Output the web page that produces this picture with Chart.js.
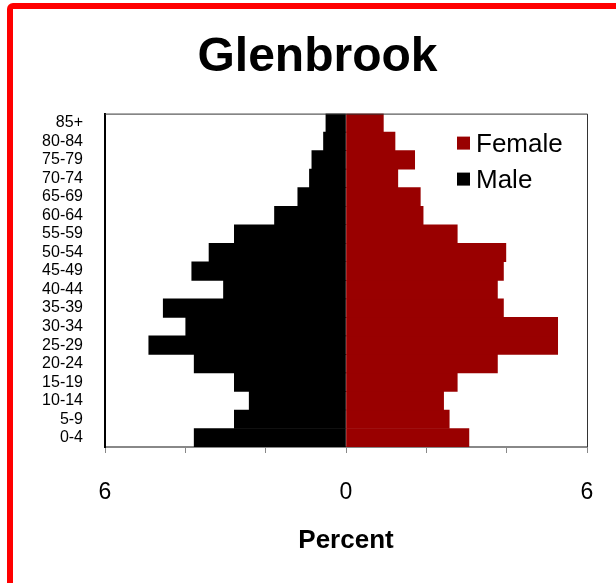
<!DOCTYPE html>
<html>
<head>
<meta charset="utf-8">
<script src="https://cdn.jsdelivr.net/npm/chart.js@4"></script>
<style>
    html, body { margin: 0; padding: 0; background: #ffffff; overflow: hidden; }
    #wrap { position: relative; width: 616px; height: 583px; }
    #frame {
        position: absolute; left: 7px; top: 3px; width: 700px; height: 700px;
        border: 6px solid #ff0000; border-radius: 6px; box-sizing: border-box;
        pointer-events: none;
    }
    canvas { position: absolute; left: 0; top: 0; }
</style>
</head>
<body>
<div id="wrap">
    <canvas id="pyramid" width="616" height="583"></canvas>
    <div id="frame"></div>
</div>
<script>
const ageGroups = ["0-4", "5-9", "10-14", "15-19", "20-24", "25-29", "30-34", "35-39", "40-44",
    "45-49", "50-54", "55-59", "60-64", "65-69", "70-74", "75-79", "80-84", "85+"];
const malePercent = [3.78, 2.78, 2.41, 2.78, 3.78, 4.91, 3.99, 4.55, 3.05,
    3.84, 3.41, 2.78, 1.78, 1.20, 0.91, 0.85, 0.56, 0.50];
const femalePercent = [3.06, 2.57, 2.43, 2.77, 3.77, 5.27, 5.27, 3.92, 3.77,
    3.92, 3.98, 2.77, 1.92, 1.85, 1.29, 1.71, 1.22, 0.93];
const shownTicks = [-6, 0, 6];

const fontFamily = "Arial, 'Liberation Sans', sans-serif";

// plot frame (top + right) and the legend drawn inside the plot area
const plotExtras = {
    id: "plotExtras",
    afterDraw(chart) {
        const { ctx, chartArea } = chart;
        ctx.save();
        ctx.strokeStyle = "#333333";
        ctx.lineWidth = 1;
        ctx.beginPath();
        ctx.moveTo(chartArea.left, chartArea.top + 0.5);
        ctx.lineTo(chartArea.right + 0.5, chartArea.top + 0.5);
        ctx.lineTo(chartArea.right + 0.5, chartArea.bottom);
        ctx.stroke();

        const items = [chart.data.datasets[1], chart.data.datasets[0]];
        ctx.font = "26px " + fontFamily;
        ctx.textBaseline = "middle";
        ctx.textAlign = "left";
        items.forEach((ds, i) => {
            const y = chartArea.top + 30 + i * 36;
            ctx.fillStyle = ds.backgroundColor;
            ctx.fillRect(chartArea.right - 130, y - 7, 13, 13);
            ctx.fillStyle = "#000000";
            ctx.fillText(ds.label, chartArea.right - 111, y + 1);
        });
        ctx.restore();
    }
};

new Chart(document.getElementById("pyramid"), {
    type: "bar",
    data: {
        labels: ageGroups,
        datasets: [
            {
                label: "Male",
                data: malePercent.map(v => -v),
                backgroundColor: "#000000",
                barPercentage: 1,
                categoryPercentage: 1
            },
            {
                label: "Female",
                data: femalePercent,
                backgroundColor: "#990000",
                barPercentage: 1,
                categoryPercentage: 1
            }
        ]
    },
    options: {
        indexAxis: "y",
        responsive: false,
        animation: false,
        layout: { padding: { left: 19, right: 0, top: 0, bottom: 0 } },
        plugins: {
            legend: { display: false },
            tooltip: { enabled: false },
            title: {
                display: true,
                text: "Glenbrook",
                color: "#000000",
                font: { family: fontFamily, size: 48, weight: "bold", lineHeight: 1.2 },
                padding: { top: 29, bottom: 27 }
            }
        },
        scales: {
            x: {
                stacked: true,
                min: -6,
                max: 6,
                afterFit: scale => { scale.height = 136; },
                grid: {
                    drawOnChartArea: false,
                    drawTicks: true,
                    tickLength: 6,
                    color: "#888888"
                },
                border: { color: "#888888", width: 2 },
                ticks: {
                    stepSize: 2,
                    autoSkip: false,
                    maxRotation: 0,
                    padding: 0,
                    color: "#000000",
                    // tall line box pushes the labels down without widening the side padding
                    font: { family: fontFamily, size: 23, lineHeight: "79px" },
                    callback: v => shownTicks.includes(v) ? String(Math.abs(v)) : ""
                },
                title: {
                    display: true,
                    text: "Percent",
                    color: "#000000",
                    font: { family: fontFamily, size: 26, weight: "bold", lineHeight: 1.2 },
                    padding: { top: 0, bottom: 27 }
                }
            },
            y: {
                stacked: true,
                reverse: true,
                afterFit: scale => { scale.width = 86; },
                grid: { display: false, drawTicks: false },
                border: { color: "#000000", width: 2 },
                ticks: {
                    autoSkip: false,
                    padding: 22,
                    color: "#000000",
                    font: { family: fontFamily, size: 16 }
                }
            },
            // empty right-hand gutter so the title centres like the original
            gutter: {
                type: "linear",
                position: "right",
                afterFit: scale => { scale.width = 29; },
                grid: { display: false },
                border: { display: false },
                ticks: { display: false }
            }
        }
    },
    plugins: [plotExtras]
});
</script>
</body>
</html>
